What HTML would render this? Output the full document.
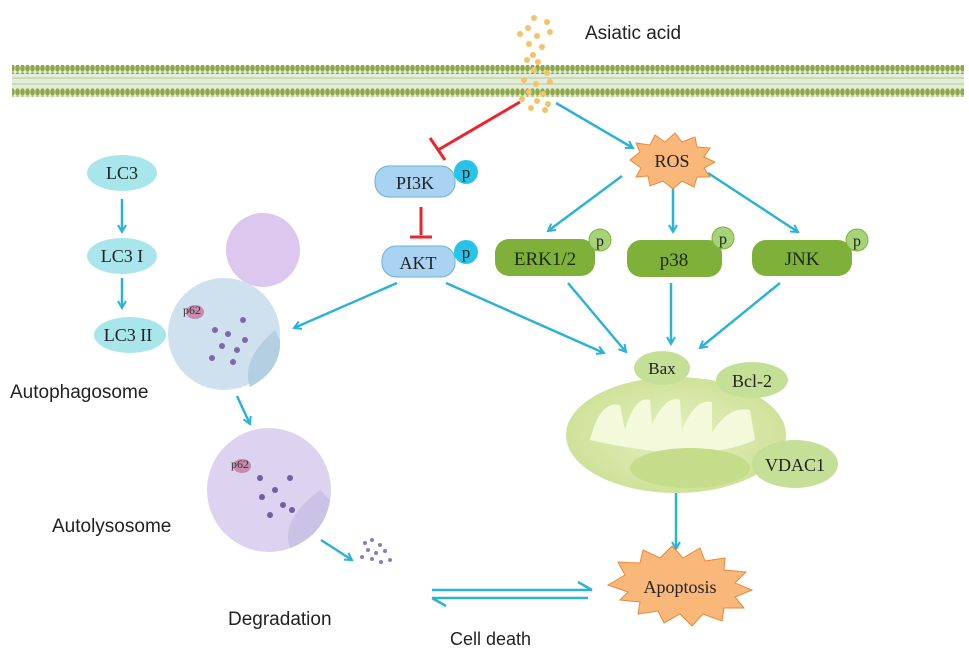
<!DOCTYPE html>
<html><head><meta charset="utf-8"><style>
body{margin:0;background:#fff;}
svg{display:block;}
.s{font-family:"Liberation Sans",sans-serif;}
.r{font-family:"Liberation Serif",serif;}
</style></head><body>
<svg width="969" height="663" viewBox="0 0 969 663" xmlns="http://www.w3.org/2000/svg">
<defs>
<pattern id="mem" width="5" height="8" patternUnits="userSpaceOnUse">
<ellipse cx="2.5" cy="4" rx="2.3" ry="3.8" fill="#8fa84a"/>
</pattern>
<marker id="a" markerWidth="10" markerHeight="10" refX="8" refY="5" orient="auto" markerUnits="userSpaceOnUse">
<path d="M1,1 L8,5 L1,9" fill="none" stroke="#2bb3d6" stroke-width="2"/>
</marker>
<radialGradient id="mito" cx="50%" cy="50%" r="50%"><stop offset="0" stop-color="#e4f0c0"/><stop offset="1" stop-color="#cfe29a"/></radialGradient>
</defs>
<rect x="12" y="67" width="952" height="30" fill="#e2eddc"/>
<rect x="12" y="65" width="952" height="9" fill="url(#mem)"/>
<rect x="12" y="88" width="952" height="9" fill="url(#mem)"/>
<g stroke="#b5c98a" stroke-width="1">
<line x1="12" y1="78" x2="964" y2="78"/><line x1="12" y1="84" x2="964" y2="84"/>
</g>
<g fill="#f3c26a">
<circle cx="528" cy="28" r="3"/><circle cx="547" cy="22" r="3"/><circle cx="534" cy="18" r="3"/><circle cx="520" cy="34" r="3"/><circle cx="537" cy="36" r="3"/><circle cx="550" cy="32" r="3"/><circle cx="529" cy="44" r="3"/><circle cx="542" cy="47" r="3"/><circle cx="533" cy="55" r="3"/><circle cx="527" cy="60" r="3"/><circle cx="538" cy="62" r="3"/><circle cx="534" cy="70" r="3"/><circle cx="547" cy="73" r="3"/><circle cx="524" cy="80" r="3"/><circle cx="536" cy="84" r="3"/><circle cx="550" cy="82" r="3"/><circle cx="529" cy="92" r="3"/><circle cx="543" cy="94" r="3"/><circle cx="522" cy="99" r="3"/><circle cx="537" cy="101" r="3"/><circle cx="548" cy="104" r="3"/><circle cx="531" cy="108" r="3"/><circle cx="545" cy="110" r="3"/>
</g>
<text x="585" y="39" class="s" font-size="19" fill="#222">Asiatic acid</text>
<g stroke="#e8262c" stroke-width="3" fill="none">
<line x1="520" y1="102" x2="438" y2="150"/><line x1="430" y1="138" x2="445" y2="160"/>
<line x1="421" y1="207" x2="421" y2="235"/><line x1="410" y1="237" x2="432" y2="237"/>
</g>
<g stroke="#2bb3d6" stroke-width="2.5" fill="none" marker-end="url(#a)">
<line x1="556" y1="103" x2="633" y2="148"/>
<line x1="622" y1="176" x2="548" y2="231"/>
<line x1="673" y1="186" x2="673" y2="232"/>
<line x1="708" y1="173" x2="798" y2="232"/>
<line x1="397" y1="283" x2="294" y2="328"/>
<line x1="446" y1="283" x2="604" y2="353"/>
<line x1="568" y1="283" x2="626" y2="352"/>
<line x1="671" y1="283" x2="671" y2="344"/>
<line x1="780" y1="283" x2="700" y2="348"/>
<line x1="122" y1="199" x2="122" y2="232"/>
<line x1="122" y1="278" x2="122" y2="308"/>
<line x1="237" y1="396" x2="250" y2="424"/>
<line x1="321" y1="540" x2="352" y2="560"/>
<line x1="676" y1="487" x2="676" y2="549"/>
</g>
<g stroke="#2bb3d6" stroke-width="2.5" fill="none">
<line x1="432" y1="590" x2="592" y2="590"/><line x1="592" y1="590" x2="578" y2="582"/>
<line x1="432" y1="598" x2="588" y2="598"/><line x1="432" y1="598" x2="446" y2="606"/>
</g>
<text x="450" y="645" class="s" font-size="18" fill="#222">Cell death</text>
<g fill="#a8e6ec">
<ellipse cx="122" cy="173" rx="35" ry="18"/><ellipse cx="122" cy="256" rx="35" ry="18"/><ellipse cx="130" cy="335" rx="36" ry="18"/>
</g>
<g class="r" font-size="18" fill="#222" text-anchor="middle">
<text x="122" y="179">LC3</text><text x="122" y="262">LC3 I</text><text x="128" y="341">LC3 II</text>
</g>
<circle cx="263" cy="250" r="37" fill="#dcc8ee"/>
<circle cx="224" cy="334" r="56" fill="#cfe1ef"/>
<path d="M250,387 Q240,360 275,330 L280,340 Q282,370 250,387Z" fill="#b5cfe2"/>
<g fill="#7a6aa8"><circle cx="215" cy="330" r="3"/><circle cx="228" cy="334" r="3"/><circle cx="243" cy="320" r="3"/><circle cx="222" cy="346" r="3"/><circle cx="237" cy="350" r="3"/><circle cx="212" cy="358" r="3"/><circle cx="233" cy="362" r="3"/><circle cx="245" cy="340" r="3"/></g>
<ellipse cx="195" cy="312" rx="9" ry="7" fill="#c98ab0"/>
<text x="183" y="314" class="r" font-size="12" fill="#333">p62</text>
<text x="10" y="398" class="s" font-size="19" fill="#222">Autophagosome</text>
<circle cx="269" cy="490" r="62" fill="#dcd3f0"/>
<path d="M290,548 Q280,520 320,490 L330,500 Q325,535 290,548Z" fill="#cbc3e6"/>
<g fill="#6f5fa0"><circle cx="260" cy="478" r="3"/><circle cx="275" cy="490" r="3"/><circle cx="290" cy="478" r="3"/><circle cx="262" cy="497" r="3"/><circle cx="283" cy="505" r="3"/><circle cx="270" cy="515" r="3"/><circle cx="292" cy="510" r="3"/></g>
<ellipse cx="242" cy="466" rx="9" ry="7" fill="#c98ab0"/>
<text x="231" y="468" class="r" font-size="12" fill="#333">p62</text>
<text x="52" y="532" class="s" font-size="19" fill="#222">Autolysosome</text>
<g fill="#8a7cc0"><circle cx="365" cy="543" r="2"/><circle cx="372" cy="540" r="2"/><circle cx="380" cy="545" r="2"/><circle cx="368" cy="550" r="2"/><circle cx="376" cy="553" r="2"/><circle cx="385" cy="551" r="2"/><circle cx="372" cy="559" r="2"/><circle cx="381" cy="562" r="2"/><circle cx="362" cy="557" r="2"/><circle cx="390" cy="560" r="2"/></g>
<text x="228" y="625" class="s" font-size="19" fill="#222">Degradation</text>
<rect x="375" y="166" width="80" height="31" rx="14" fill="#a9d3f0" stroke="#6cb0dc"/>
<text x="415" y="189" class="r" font-size="18" text-anchor="middle" fill="#222">PI3K</text>
<circle cx="466" cy="172" r="12" fill="#28c3e6"/><text x="466" y="178" class="r" font-size="17" text-anchor="middle" fill="#222">p</text>
<rect x="382" y="246" width="73" height="31" rx="14" fill="#a9d3f0" stroke="#6cb0dc"/>
<text x="418" y="269" class="r" font-size="18" text-anchor="middle" fill="#222">AKT</text>
<circle cx="466" cy="252" r="12" fill="#28c3e6"/><text x="466" y="258" class="r" font-size="17" text-anchor="middle" fill="#222">p</text>
<polygon points="630,160 640,152 636,143 650,145 655,135 665,142 675,133 682,142 695,137 697,147 710,148 704,157 715,162 704,168 710,177 697,177 694,187 682,181 673,189 663,181 650,186 648,176 636,177 641,168" fill="#f9b87a" stroke="#e8893a"/>
<text x="672" y="167" class="r" font-size="18" text-anchor="middle" fill="#222">ROS</text>
<g fill="#7fb13a">
<rect x="495" y="239" width="100" height="37" rx="14"/><rect x="627" y="240" width="95" height="37" rx="14"/><rect x="752" y="240" width="100" height="36" rx="14"/>
</g>
<g class="r" font-size="19" text-anchor="middle" fill="#1d2a10">
<text x="545" y="265">ERK1/2</text><text x="674" y="266">p38</text><text x="802" y="265">JNK</text>
</g>
<g fill="#a6d37a" stroke="#7fb13a"><circle cx="600" cy="240" r="11"/><circle cx="723" cy="238" r="11"/><circle cx="857" cy="240" r="11"/></g>
<g class="r" font-size="16" text-anchor="middle" fill="#222"><text x="600" y="246">p</text><text x="723" y="244">p</text><text x="857" y="246">p</text></g>
<ellipse cx="676" cy="435" rx="110" ry="58" fill="url(#mito)"/>
<path d="M590,440 Q600,400 620,405 L625,430 Q635,395 650,400 L652,425 Q665,395 680,400 L682,430 Q695,398 712,402 L712,432 Q730,405 750,410 L755,440 Q700,465 590,440Z" fill="#f4f9dc"/>
<ellipse cx="690" cy="468" rx="60" ry="20" fill="#c5dc8a"/>
<ellipse cx="662" cy="368" rx="28" ry="17" fill="#c5e096"/>
<text x="662" y="374" class="r" font-size="17" text-anchor="middle" fill="#222">Bax</text>
<ellipse cx="752" cy="380" rx="36" ry="18" fill="#c5e096"/>
<text x="752" y="387" class="r" font-size="18" text-anchor="middle" fill="#222">Bcl-2</text>
<ellipse cx="795" cy="464" rx="43" ry="24" fill="#c5e096"/>
<text x="795" y="471" class="r" font-size="18" text-anchor="middle" fill="#222">VDAC1</text>
<polygon points="608,585 625,575 618,562 640,563 643,550 660,558 672,546 683,558 700,548 705,561 725,558 724,570 746,572 735,583 752,590 735,597 744,608 724,608 722,621 703,614 692,626 680,614 664,623 658,611 638,614 640,602 620,600 628,592" fill="#f9b87a" stroke="#e8893a"/>
<text x="680" y="593" class="r" font-size="18" text-anchor="middle" fill="#222">Apoptosis</text>
</svg>
</body></html>
